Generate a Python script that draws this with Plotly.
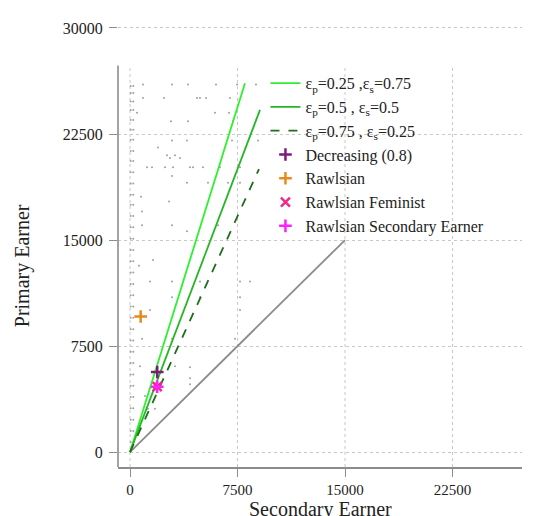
import plotly.graph_objects as go

# ---- data ----
line_labels = ["ε<sub>p</sub>=0.25 ,ε<sub>s</sub>=0.75",
               "ε<sub>p</sub>=0.5 , ε<sub>s</sub>=0.5",
               "ε<sub>p</sub>=0.75 , ε<sub>s</sub>=0.25"]
line1_x = [0, 8020]
line1_y = [0, 26090]
line2_x = [0, 9070]
line2_y = [0, 24210]
line3_x = [0, 9000]
line3_y = [0, 20020]
diag_x = [0, 15000]
diag_y = [0, 15000]

point_labels = ["Decreasing (0.8)", "Rawlsian", "Rawlsian Feminist", "Rawlsian Secondary Earner"]
point_x = [1900, 745, 1900, 1900]
point_y = [5670, 9600, 4630, 4630]

# background observations (grey dots)
col_y = [25900, 25400, 24800, 24200, 23500, 22800, 22100, 21300, 20600, 19800, 19000,
         18200, 17500, 16700, 15900, 15100, 14300, 13500, 12700, 11900, 11100, 10300,
         9500, 8700, 7900, 7100, 6300, 5500, 4700, 3900, 3100, 2300, 1500, 700]
col_x1 = [50] * len(col_y)
col_x2 = [230] * len(col_y)
obs_x = [907, 2930, 4047, 6000, 7465, 8790,
         907, 2372, 4675, 4884, 5303, 6977,
         488, 5930, 6907,
         2860, 4047, 7186,
         2930, 3977, 7116, 8930,
         1954, 2581, 3140, 2790, 3489,
         1186, 1535, 2442, 3000, 4186, 4395, 5093, 6279, 7675,
         2930, 3977, 5442, 6837, 7675,
         767, 2721, 837, 837, 2930, 6140, 3977,
         1605, 628,
         1395, 2930, 4884, 7675, 8372,
         2930, 4884, 7675,
         1395, 7675,
         837, 2930, 7326,
         698, 3140, 4186, 4186, 4186,
         1047, 1256, 1744, 698]
obs_y = [26000, 26000, 26000, 26000, 26000, 26000,
         25050, 25050, 25050, 25050, 25050, 25050,
         24000, 24000, 24000,
         23400, 23400, 23400,
         22050, 22050, 22050, 22050,
         21550, 21000, 21000, 20800, 20800,
         20150, 20150, 20150, 20150, 20150, 20150, 20150, 20150, 20150,
         19540, 19050, 19050, 19050, 19050,
         18070, 17720, 17020, 16050, 16050, 16050, 15630,
         13600, 13190,
         12070, 12070, 12070, 12070, 12070,
         10950, 10950, 10950,
         10050, 10050,
         8020, 8020, 8020,
         6070, 6070, 6000, 5230, 4810,
         3980, 3070, 3070, 1670]

y_ticks = [0, 7500, 15000, 22500, 30000]
x_ticks = [0, 7500, 15000, 22500]

FONT = "Liberation Serif"
X_RANGE = [-837, 27349]
Y_RANGE = [-1047, 30139]
PLOT_TOP = 27350

fig = go.Figure()

fig.add_trace(go.Scatter(x=col_x1 + col_x2 + obs_x, y=col_y + col_y + obs_y, mode="markers",
                         marker=dict(size=2, color="#a0a0a0"), showlegend=False, hoverinfo="skip"))
fig.add_trace(go.Scatter(x=diag_x, y=diag_y, mode="lines", line=dict(color="#8c8c8c", width=1.8),
                         showlegend=False))
fig.add_trace(go.Scatter(x=line1_x, y=line1_y, mode="lines", name=line_labels[0],
                         line=dict(color="#2ef02e", width=1.8)))
fig.add_trace(go.Scatter(x=line2_x, y=line2_y, mode="lines", name=line_labels[1],
                         line=dict(color="#26b626", width=1.8)))
fig.add_trace(go.Scatter(x=line3_x, y=line3_y, mode="lines", name=line_labels[2],
                         line=dict(color="#1c6e1c", width=1.8, dash="dash")))

symbols = ["cross-thin", "cross-thin", "x-thin", "cross-thin"]
colors = ["#7d1a7d", "#e8891c", "#f0288c", "#ff1eff"]
for i in range(4):
    fig.add_trace(go.Scatter(x=[point_x[i]], y=[point_y[i]], mode="markers", name=point_labels[i],
                             marker=dict(symbol=symbols[i], size=9,
                                         line=dict(color=colors[i], width=2.5))))

shapes = []
# y axis line (stops short of the 30000 tick)
shapes.append(dict(type="line", xref="paper", yref="y", x0=0, x1=0, y0=Y_RANGE[0], y1=PLOT_TOP,
                   line=dict(color="#8c8c8c", width=1.6)))
# vertical dotted grid lines within plot region
for xv in x_ticks:
    shapes.append(dict(type="line", xref="x", yref="y", x0=xv, x1=xv, y0=Y_RANGE[0], y1=PLOT_TOP,
                       line=dict(color="#c8c8c8", width=1, dash="dot"), layer="below"))
fig.update_layout(shapes=shapes)

fig.update_xaxes(range=X_RANGE, tickvals=x_ticks, ticktext=[str(v) for v in x_ticks],
                 showgrid=False, zeroline=False, showline=True, linecolor="#8c8c8c", linewidth=1.6,
                 ticks="outside", ticklen=8, tickcolor="#8c8c8c", tickwidth=1.2,
                 tickfont=dict(family=FONT, size=15, color="#222"))
fig.update_yaxes(range=Y_RANGE, tickvals=y_ticks, ticktext=[str(v) for v in y_ticks],
                 showgrid=True, gridcolor="#c8c8c8", griddash="dot", gridwidth=1,
                 zeroline=False, showline=False, ticklabelstandoff=3,
                 ticks="outside", ticklen=8, tickcolor="#8c8c8c", tickwidth=1.2,
                 tickfont=dict(family=FONT, size=16, color="#222"))

fig.update_layout(
    width=529, height=508,
    margin=dict(l=110, r=15, t=12, b=49),
    plot_bgcolor="white", paper_bgcolor="white",
    font=dict(family=FONT, size=16, color="#222"),
    legend=dict(x=0.365, y=0.909, xanchor="left", yanchor="top", bgcolor="rgba(0,0,0,0)",
                font=dict(family=FONT, size=16, color="#222"), tracegroupgap=0),
    annotations=[
        dict(text="Secondary Earner", xref="paper", yref="paper", x=0.5, y=0, yshift=-42,
             showarrow=False, font=dict(family=FONT, size=20, color="#222"), yanchor="middle"),
        dict(text="Primary Earner", xref="paper", yref="y", x=0, xshift=-96,
             y=(Y_RANGE[0] + PLOT_TOP) / 2, textangle=-90,
             showarrow=False, font=dict(family=FONT, size=20, color="#222"), xanchor="center"),
    ],
)

fig.write_html("out.html")
